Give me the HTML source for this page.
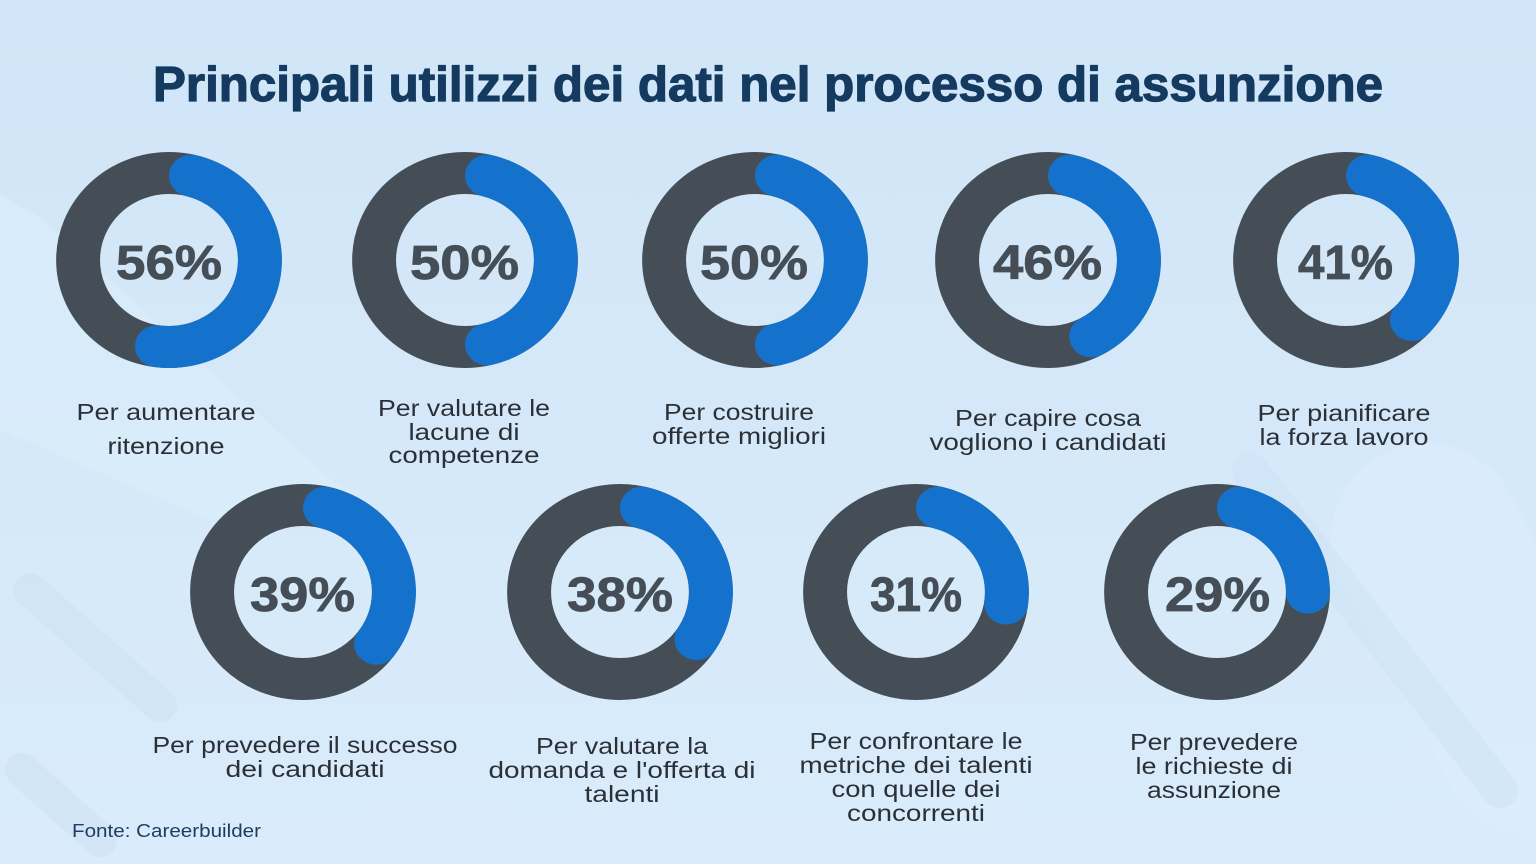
<!DOCTYPE html>
<html>
<head>
<meta charset="utf-8">
<style>
  html,body{margin:0;padding:0;width:1536px;height:864px;overflow:hidden;}
  body{background:#d4e8f8;}
  svg{display:block;}
</style>
</head>
<body>
<svg width="1536" height="864" viewBox="0 0 1536 864" xmlns="http://www.w3.org/2000/svg">
  <defs>
    <linearGradient id="bg" x1="0" y1="0" x2="0" y2="1">
      <stop offset="0" stop-color="#d0e5f7"/>
      <stop offset="1" stop-color="#daecfb"/>
    </linearGradient>
    <clipPath id="frame"><rect x="0" y="0" width="1536" height="864"/></clipPath>
  </defs>
  <g clip-path="url(#frame)">
  <rect x="0" y="0" width="1536" height="864" fill="url(#bg)"/>

  <!-- subtle background shapes -->
  <polygon points="0,195 40,217 360,505 210,520 0,430" fill="#daecfb" opacity="0.7"/>
  <line x1="30" y1="590" x2="160" y2="705" stroke="#cbe1f4" stroke-width="34" stroke-linecap="round" opacity="0.55"/>
  <line x1="22" y1="770" x2="100" y2="840" stroke="#cbe1f4" stroke-width="34" stroke-linecap="round" opacity="0.5"/>
  <rect x="1385" y="430" width="190" height="420" rx="95" fill="#dcedfc" transform="rotate(-28 1480 640)" opacity="0.7"/>
  <line x1="1250" y1="470" x2="1500" y2="790" stroke="#cde3f6" stroke-width="36" stroke-linecap="round" opacity="0.55"/>
  </g>

  <!-- title -->
  <text x="768" y="101" text-anchor="middle" textLength="1230" lengthAdjust="spacingAndGlyphs"
        font-family="Liberation Sans, Arial, sans-serif" font-weight="700" font-size="49" fill="#143a60"
        stroke="#143a60" stroke-width="1.2">Principali utilizzi dei dati nel processo di assunzione</text>

  <!-- donuts row 1 -->
  <g transform="translate(169,260) scale(1.045,1)">
    <circle r="87" fill="none" stroke="#454e57" stroke-width="42"/>
    <path d="M21.05,-84.41 A87,87 0 0 1 -11.51,86.24" fill="none" stroke="#1572cc" stroke-width="42" stroke-linecap="round"/>
  </g>
  <g transform="translate(465,260) scale(1.045,1)">
    <circle r="87" fill="none" stroke="#454e57" stroke-width="42"/>
    <path d="M21.05,-84.41 A87,87 0 0 1 21.05,84.41" fill="none" stroke="#1572cc" stroke-width="42" stroke-linecap="round"/>
  </g>
  <g transform="translate(755,260) scale(1.045,1)">
    <circle r="87" fill="none" stroke="#454e57" stroke-width="42"/>
    <path d="M21.05,-84.41 A87,87 0 0 1 21.05,84.41" fill="none" stroke="#1572cc" stroke-width="42" stroke-linecap="round"/>
  </g>
  <g transform="translate(1048,260) scale(1.045,1)">
    <circle r="87" fill="none" stroke="#454e57" stroke-width="42"/>
    <path d="M21.05,-84.41 A87,87 0 0 1 41.38,76.53" fill="none" stroke="#1572cc" stroke-width="42" stroke-linecap="round"/>
  </g>
  <g transform="translate(1346,260) scale(1.045,1)">
    <circle r="87" fill="none" stroke="#454e57" stroke-width="42"/>
    <path d="M21.05,-84.41 A87,87 0 0 1 63.0,60.0" fill="none" stroke="#1572cc" stroke-width="42" stroke-linecap="round"/>
  </g>

  <!-- donuts row 2 -->
  <g transform="translate(303,592) scale(1.045,1)">
    <circle r="87" fill="none" stroke="#454e57" stroke-width="42"/>
    <path d="M21.05,-84.41 A87,87 0 0 1 70.03,51.63" fill="none" stroke="#1572cc" stroke-width="42" stroke-linecap="round"/>
  </g>
  <g transform="translate(620,592) scale(1.045,1)">
    <circle r="87" fill="none" stroke="#454e57" stroke-width="42"/>
    <path d="M21.05,-84.41 A87,87 0 0 1 73.13,47.13" fill="none" stroke="#1572cc" stroke-width="42" stroke-linecap="round"/>
  </g>
  <g transform="translate(916,592) scale(1.045,1)">
    <circle r="87" fill="none" stroke="#454e57" stroke-width="42"/>
    <path d="M21.05,-84.41 A87,87 0 0 1 86.24,11.51" fill="none" stroke="#1572cc" stroke-width="42" stroke-linecap="round"/>
  </g>
  <g transform="translate(1217,592) scale(1.045,1)">
    <circle r="87" fill="none" stroke="#454e57" stroke-width="42"/>
    <path d="M21.05,-84.41 A87,87 0 0 1 87.0,0.61" fill="none" stroke="#1572cc" stroke-width="42" stroke-linecap="round"/>
  </g>

  <!-- percentages -->
  <g font-family="Liberation Sans, Arial, sans-serif" font-weight="700" font-size="48" fill="#454e57" stroke="#454e57" stroke-width="0.8" text-anchor="middle">
    <text x="169" y="279" textLength="106" lengthAdjust="spacingAndGlyphs">56%</text>
    <text x="464.5" y="279" textLength="109" lengthAdjust="spacingAndGlyphs">50%</text>
    <text x="754" y="279" textLength="108" lengthAdjust="spacingAndGlyphs">50%</text>
    <text x="1047.5" y="279" textLength="109" lengthAdjust="spacingAndGlyphs">46%</text>
    <text x="1345.5" y="279" textLength="95" lengthAdjust="spacingAndGlyphs">41%</text>
    <text x="302.5" y="611" textLength="105" lengthAdjust="spacingAndGlyphs">39%</text>
    <text x="620" y="611" textLength="106" lengthAdjust="spacingAndGlyphs">38%</text>
    <text x="916" y="611" textLength="92" lengthAdjust="spacingAndGlyphs">31%</text>
    <text x="1217.5" y="611" textLength="105" lengthAdjust="spacingAndGlyphs">29%</text>
  </g>

  <!-- labels -->
  <g font-family="Liberation Sans, Arial, sans-serif" font-size="23" fill="#2b3037" text-anchor="middle">
    <text x="166" y="420" textLength="179" lengthAdjust="spacingAndGlyphs">Per aumentare</text>
    <text x="166" y="454" textLength="117" lengthAdjust="spacingAndGlyphs">ritenzione</text>

    <text x="464" y="416" textLength="172" lengthAdjust="spacingAndGlyphs">Per valutare le</text>
    <text x="464" y="440" textLength="111" lengthAdjust="spacingAndGlyphs">lacune di</text>
    <text x="464" y="463" textLength="151" lengthAdjust="spacingAndGlyphs">competenze</text>

    <text x="739" y="420" textLength="150" lengthAdjust="spacingAndGlyphs">Per costruire</text>
    <text x="739" y="444" textLength="174" lengthAdjust="spacingAndGlyphs">offerte migliori</text>

    <text x="1048" y="426" textLength="186" lengthAdjust="spacingAndGlyphs">Per capire cosa</text>
    <text x="1048" y="450" textLength="237" lengthAdjust="spacingAndGlyphs">vogliono i candidati</text>

    <text x="1344" y="421" textLength="173" lengthAdjust="spacingAndGlyphs">Per pianificare</text>
    <text x="1344" y="445" textLength="169" lengthAdjust="spacingAndGlyphs">la forza lavoro</text>

    <text x="305" y="753" textLength="305" lengthAdjust="spacingAndGlyphs">Per prevedere il successo</text>
    <text x="305" y="777" textLength="159" lengthAdjust="spacingAndGlyphs">dei candidati</text>

    <text x="622" y="754" textLength="172" lengthAdjust="spacingAndGlyphs">Per valutare la</text>
    <text x="622" y="778" textLength="267" lengthAdjust="spacingAndGlyphs">domanda e l'offerta di</text>
    <text x="622" y="802" textLength="75" lengthAdjust="spacingAndGlyphs">talenti</text>

    <text x="916" y="749" textLength="213" lengthAdjust="spacingAndGlyphs">Per confrontare le</text>
    <text x="916" y="773" textLength="233" lengthAdjust="spacingAndGlyphs">metriche dei talenti</text>
    <text x="916" y="797" textLength="169" lengthAdjust="spacingAndGlyphs">con quelle dei</text>
    <text x="916" y="821" textLength="138" lengthAdjust="spacingAndGlyphs">concorrenti</text>

    <text x="1214" y="750" textLength="168" lengthAdjust="spacingAndGlyphs">Per prevedere</text>
    <text x="1214" y="774" textLength="157" lengthAdjust="spacingAndGlyphs">le richieste di</text>
    <text x="1214" y="798" textLength="134" lengthAdjust="spacingAndGlyphs">assunzione</text>
  </g>

  <!-- source -->
  <text x="72" y="837" textLength="189" lengthAdjust="spacingAndGlyphs"
        font-family="Liberation Sans, Arial, sans-serif" font-size="18" fill="#1f3d63">Fonte: Careerbuilder</text>
</svg>
</body>
</html>
